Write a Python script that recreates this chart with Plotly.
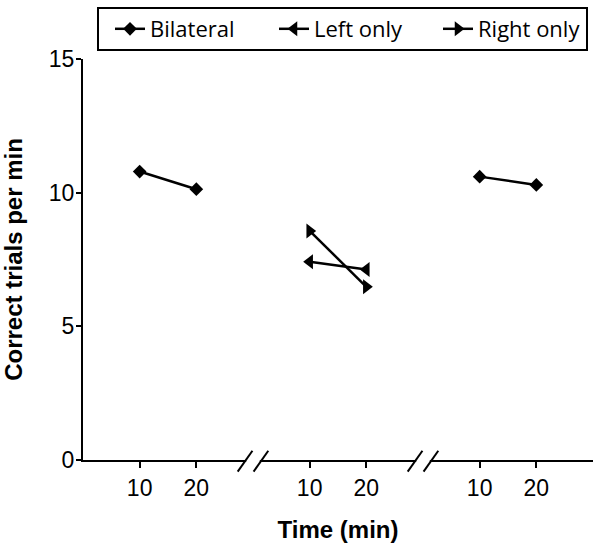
import plotly.graph_objects as go

# ---- data ----
times = [10, 20]
panel_offsets = [0, 30, 60]          # three panels on a broken time axis
break_positions = [30, 60]
tick_labels = ["10", "20", "10", "20", "10", "20"]

bilateral_p1 = [10.79, 10.13]
bilateral_p3 = [10.60, 10.29]
left_only_p2 = [7.42, 7.13]
right_only_p2 = [8.57, 6.48]

y_ticks = [0, 5, 10, 15]

# ---- build ----
def xs(panel):
    return [t + panel_offsets[panel] for t in times]

tick_vals = xs(0) + xs(1) + xs(2)

line_style = dict(color="black", width=2.5)
fig = go.Figure()
fig.add_trace(go.Scatter(
    x=xs(0) + [None] + xs(2), y=bilateral_p1 + [None] + bilateral_p3,
    mode="lines+markers", name="Bilateral", connectgaps=False,
    line=line_style, marker=dict(symbol="diamond", size=10.5, color="black")))
fig.add_trace(go.Scatter(
    x=xs(1), y=left_only_p2, mode="lines+markers", name="Left only",
    line=line_style, marker=dict(symbol="triangle-left", size=13, color="black")))
fig.add_trace(go.Scatter(
    x=xs(1), y=right_only_p2, mode="lines+markers", name="Right only",
    line=line_style, marker=dict(symbol="triangle-right", size=13, color="black")))

shapes = []
for b in break_positions:
    shapes.append(dict(type="rect", xref="x", yref="paper", x0=b - 1.2, x1=b + 1.2,
                       y0=-0.012, y1=0.012, fillcolor="white", line=dict(width=0), layer="above"))
    for dx in (-1.4, 1.4):
        shapes.append(dict(type="line", xref="x", yref="paper",
                           x0=b + dx - 1.3, x1=b + dx + 1.3, y0=-0.029, y1=0.023,
                           line=dict(color="black", width=2), layer="above"))
# legend frame
shapes.append(dict(type="rect", xref="paper", yref="paper",
                   x0=(98 - 83) / 510, x1=(587 - 83) / 510, y0=1.0224, y1=1.1272,
                   line=dict(color="black", width=2), fillcolor="rgba(0,0,0,0)"))

axis_font = dict(family="Liberation Sans, Arial", size=23, color="black")
title_font = dict(family="Liberation Sans, Arial", size=24, color="black", weight="bold")

fig.update_layout(
    width=601, height=548,
    margin=dict(l=83, r=8, t=59, b=88, autoexpand=False),
    paper_bgcolor="white", plot_bgcolor="white",
    showlegend=True,
    legend=dict(orientation="h", x=(110 - 83) / 510, xanchor="left",
                y=(460 - 29) / 401, yanchor="middle",
                font=dict(family="Open Sans", size=22, color="black"),
                entrywidth=119, bgcolor="rgba(0,0,0,0)", borderwidth=0,
                itemwidth=30),
    shapes=shapes,
    xaxis=dict(range=[0, 90], tickvals=tick_vals, ticktext=tick_labels,
               showline=True, linecolor="black", linewidth=2, ticks="outside",
               ticklen=6, tickwidth=2, tickcolor="black", showgrid=False, zeroline=False,
               tickfont=axis_font,
               title=dict(text="Time (min)", font=title_font, standoff=22)),
    yaxis=dict(range=[0, 15], tickvals=y_ticks, showline=True, linecolor="black",
               linewidth=2, ticks="outside", ticklen=5, tickwidth=2, tickcolor="black",
               showgrid=False, zeroline=False, tickfont=axis_font, ticklabelstandoff=-3,
               title=dict(text="Correct trials per min", font=title_font, standoff=20)),
)

fig.write_html("out.html", config={"displayModeBar": False},
               post_script="document.body.style.margin='0';")
